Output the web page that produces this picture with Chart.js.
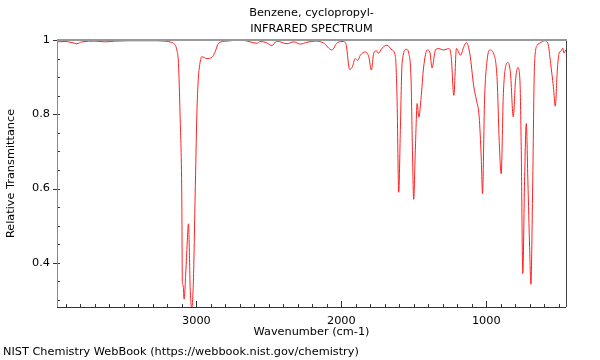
<!DOCTYPE html>
<html>
<head>
<meta charset="utf-8">
<script src="https://cdn.jsdelivr.net/npm/chart.js@4"></script>
<style>
  html, body { margin: 0; padding: 0; background: #fff; }
  #wrap { width: 600px; height: 360px; }
</style>
</head>
<body>
<div id="wrap"><canvas id="irChart" width="600" height="360"></canvas></div>
<script>
// Spectrum data
const titleLines = ['Benzene, cyclopropyl-', 'INFRARED SPECTRUM'];
const xLabel = 'Wavenumber (cm-1)';
const yLabel = 'Relative Transmittance';
const footer = 'NIST Chemistry WebBook (https://webbook.nist.gov/chemistry)';

const wavenumbers = [
  3960, 3907, 3859, 3826, 3790, 3700, 3630, 3561, 3458, 3320, 3216, 3175, 3154, 3135, 3124,
  3113, 3101, 3097, 3092, 3085, 3073, 3064, 3055, 3048, 3044, 3032, 3021, 3009, 2997, 2988,
  2979, 2963, 2928, 2894, 2871, 2848, 2790, 2698, 2629, 2583, 2560, 2518, 2479, 2445, 2375,
  2329, 2284, 2237, 2180, 2123, 2065, 2030, 1984, 1966, 1943, 1926, 1904, 1888, 1869, 1834,
  1811, 1793, 1777, 1758, 1746, 1719, 1685, 1650, 1627, 1616, 1604, 1593, 1581, 1551, 1535,
  1519, 1510, 1501, 1489, 1477, 1465, 1451, 1432, 1408, 1390, 1374, 1351, 1328, 1294, 1259,
  1242, 1224, 1206, 1178, 1155, 1137, 1114, 1086, 1068, 1049, 1035, 1026, 1012, 996, 976,
  948, 925, 911, 897, 883, 867, 851, 833, 814, 798, 782, 768, 759, 748, 736,
  724, 713, 701, 692, 681, 667, 648, 625, 597, 575, 556, 537, 524, 510, 498,
  482, 473, 464, 452
];
const transmittance = [
  0.995, 0.996, 0.993, 0.990, 0.995, 0.997, 0.995, 0.997, 0.998, 0.998, 0.997, 0.994, 0.990, 0.973, 0.937,
  0.800, 0.577, 0.350, 0.340, 0.302, 0.378, 0.450, 0.505, 0.420, 0.343, 0.279, 0.350, 0.577, 0.800, 0.890,
  0.928, 0.955, 0.950, 0.953, 0.968, 0.991, 0.997, 1.000, 0.995, 0.991, 0.996, 0.993, 0.985, 0.997, 0.990,
  0.995, 0.989, 0.994, 0.997, 0.992, 0.973, 0.992, 0.996, 0.985, 0.921, 0.926, 0.950, 0.945, 0.959, 0.968,
  0.955, 0.919, 0.964, 0.971, 0.964, 0.978, 0.986, 0.973, 0.955, 0.847, 0.590, 0.757, 0.937, 0.975, 0.964,
  0.892, 0.712, 0.571, 0.712, 0.829, 0.792, 0.840, 0.928, 0.973, 0.968, 0.925, 0.973, 0.977, 0.973, 0.977,
  0.955, 0.851, 0.977, 0.959, 0.982, 0.993, 0.964, 0.874, 0.838, 0.793, 0.685, 0.586, 0.838, 0.940, 0.973,
  0.962, 0.892, 0.730, 0.640, 0.847, 0.928, 0.939, 0.910, 0.793, 0.892, 0.926, 0.892, 0.712, 0.371, 0.620,
  0.775, 0.620, 0.441, 0.342, 0.577, 0.937, 0.986, 0.993, 0.998, 0.991, 0.937, 0.874, 0.822, 0.919, 0.964,
  0.971, 0.978, 0.965, 0.973
];

const xMin = 450, xMax = 3962;
const yMin = 0.281, yMax = 1;

const FONT = 'DejaVu Sans';
const FSIZE = 11.3;

// inward tick marks, frame and the text around the plot
const framePlugin = {
  id: 'frame',
  afterDraw(chart) {
    const ctx = chart.ctx;
    const a = chart.chartArea;
    const xs = chart.scales.x, ys = chart.scales.y;
    ctx.save();
    ctx.lineWidth = 1;

    // x ticks (point up into the plot)
    ctx.strokeStyle = '#333';
    xs.ticks.forEach(t => {
      const px = Math.round(xs.getPixelForValue(t.value)) + 0.5;
      const len = t.value % 1000 === 0 ? 6 : 3;
      ctx.beginPath();
      ctx.moveTo(px, a.bottom);
      ctx.lineTo(px, a.bottom - len);
      ctx.stroke();
    });
    // y ticks
    ys.ticks.forEach(t => {
      const py = Math.round(ys.getPixelForValue(t.value)) + 0.5;
      const major = Math.round(t.value * 100) % 20 === 0;
      ctx.beginPath();
      ctx.moveTo(a.left - (major ? 4 : 0), py);
      ctx.lineTo(a.left + 3, py);
      ctx.stroke();
    });

    // frame
    ctx.strokeStyle = '#888';
    ctx.beginPath();
    ctx.moveTo(a.left + 0.5, a.top);
    ctx.lineTo(a.left + 0.5, a.bottom);
    ctx.stroke();
    ctx.strokeStyle = '#333';
    ctx.beginPath();
    ctx.moveTo(a.left, a.bottom + 0.5);
    ctx.lineTo(a.right, a.bottom + 0.5);
    ctx.stroke();
    ctx.strokeStyle = '#444';
    ctx.beginPath();
    ctx.moveTo(a.right + 0.5, a.top);
    ctx.lineTo(a.right + 0.5, a.bottom);
    ctx.stroke();
    ctx.strokeStyle = '#999';
    ctx.lineWidth = 2;
    ctx.beginPath();
    ctx.moveTo(a.left, a.top);
    ctx.lineTo(a.right + 1, a.top);
    ctx.stroke();

    // texts
    ctx.fillStyle = '#000';
    ctx.font = FSIZE + 'px "' + FONT + '"';
    ctx.textAlign = 'center';
    ctx.textBaseline = 'middle';
    const cx = (a.left + a.right) / 2;
    ctx.fillText(titleLines[0], cx, 13);
    ctx.fillText(titleLines[1], cx, 29);
    ctx.fillText(xLabel, cx, 332);
    ctx.save();
    ctx.translate(11, (a.top + a.bottom) / 2);
    ctx.rotate(-Math.PI / 2);
    ctx.fillText(yLabel, 0, 0);
    ctx.restore();
    ctx.textAlign = 'left';
    ctx.fillText(footer, 3, 352);
    ctx.restore();
  }
};

const points = wavenumbers.map((w, i) => ({ x: w, y: transmittance[i] }));

new Chart(document.getElementById('irChart'), {
  type: 'line',
  data: {
    datasets: [{
      data: points,
      borderColor: '#ff2020',
      borderWidth: 1,
      pointRadius: 0,
      cubicInterpolationMode: 'monotone',
      fill: false
    }]
  },
  options: {
    responsive: false,
    animation: false,
    devicePixelRatio: 1,
    layout: { padding: { top: 40, right: 34, left: 0, bottom: 0 } },
    plugins: { legend: { display: false }, tooltip: { enabled: false }, title: { display: false } },
    scales: {
      x: {
        type: 'linear',
        reverse: true,
        min: xMin,
        max: xMax,
        grid: { display: false, drawTicks: false },
        border: { display: false },
        afterFit: s => { s.height = 53; },
        ticks: {
          stepSize: 100,
          includeBounds: false,
          autoSkip: false,
          maxRotation: 0,
          padding: 7,
          color: '#000',
          font: { family: FONT, size: FSIZE },
          callback: v => (v % 1000 === 0 ? String(v) : '')
        }
      },
      y: {
        min: yMin,
        max: yMax,
        grid: { display: false, drawTicks: false },
        border: { display: false },
        afterFit: s => { s.width = 57; },
        ticks: {
          stepSize: 0.05,
          includeBounds: false,
          autoSkip: false,
          padding: 7,
          color: '#000',
          font: { family: FONT, size: FSIZE },
          callback: v => {
            if (Math.round(v * 100) % 20 !== 0) return '';
            return Math.abs(v - 1) < 1e-6 ? '1' : v.toFixed(1);
          }
        }
      }
    }
  },
  plugins: [framePlugin]
});
</script>
</body>
</html>
